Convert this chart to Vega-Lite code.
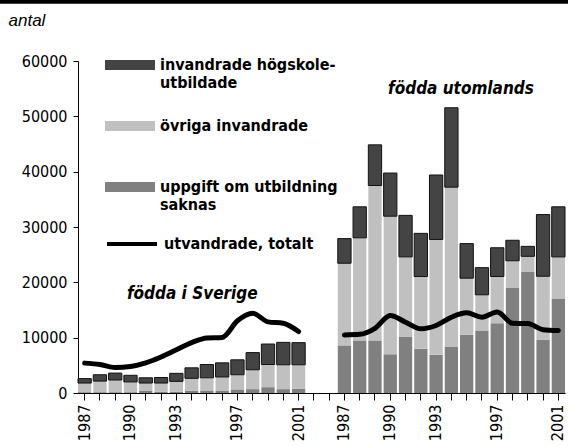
{
  "$schema": "https://vega.github.io/schema/vega-lite/v6.json",
  "width": 487,
  "height": 332,
  "autosize": {"type": "none"},
  "padding": {"left": 78, "top": 61, "right": 3, "bottom": 53},
  "background": "white",
  "config": {
    "view": {"stroke": null},
    "font": "DejaVu Sans Condensed, Roboto, sans-serif",
    "axis": {"domainColor": "black", "tickColor": "black", "labelColor": "black", "labelFont": "DejaVu Sans Condensed, Roboto, sans-serif", "labelFontSize": 16, "grid": false}
  },
  "datasets": {
    "bars": [
      {"k": "S1987", "s": "uppgift om utbildning saknas", "o": 1, "v": 150},
      {"k": "S1987", "s": "övriga invandrade", "o": 2, "v": 1650},
      {"k": "S1987", "s": "invandrade högskoleutbildade", "o": 3, "v": 800},
      {"k": "S1988", "s": "uppgift om utbildning saknas", "o": 1, "v": 150},
      {"k": "S1988", "s": "övriga invandrade", "o": 2, "v": 2000},
      {"k": "S1988", "s": "invandrade högskoleutbildade", "o": 3, "v": 1150},
      {"k": "S1989", "s": "uppgift om utbildning saknas", "o": 1, "v": 150},
      {"k": "S1989", "s": "övriga invandrade", "o": 2, "v": 2200},
      {"k": "S1989", "s": "invandrade högskoleutbildade", "o": 3, "v": 1250},
      {"k": "S1990", "s": "uppgift om utbildning saknas", "o": 1, "v": 150},
      {"k": "S1990", "s": "övriga invandrade", "o": 2, "v": 1850},
      {"k": "S1990", "s": "invandrade högskoleutbildade", "o": 3, "v": 1200},
      {"k": "S1991", "s": "uppgift om utbildning saknas", "o": 1, "v": 450},
      {"k": "S1991", "s": "övriga invandrade", "o": 2, "v": 1350},
      {"k": "S1991", "s": "invandrade högskoleutbildade", "o": 3, "v": 950},
      {"k": "S1992", "s": "uppgift om utbildning saknas", "o": 1, "v": 250},
      {"k": "S1992", "s": "övriga invandrade", "o": 2, "v": 1550},
      {"k": "S1992", "s": "invandrade högskoleutbildade", "o": 3, "v": 1000},
      {"k": "S1993", "s": "uppgift om utbildning saknas", "o": 1, "v": 250},
      {"k": "S1993", "s": "övriga invandrade", "o": 2, "v": 1850},
      {"k": "S1993", "s": "invandrade högskoleutbildade", "o": 3, "v": 1450},
      {"k": "S1994", "s": "uppgift om utbildning saknas", "o": 1, "v": 400},
      {"k": "S1994", "s": "övriga invandrade", "o": 2, "v": 2250},
      {"k": "S1994", "s": "invandrade högskoleutbildade", "o": 3, "v": 1900},
      {"k": "S1995", "s": "uppgift om utbildning saknas", "o": 1, "v": 450},
      {"k": "S1995", "s": "övriga invandrade", "o": 2, "v": 2300},
      {"k": "S1995", "s": "invandrade högskoleutbildade", "o": 3, "v": 2400},
      {"k": "S1996", "s": "uppgift om utbildning saknas", "o": 1, "v": 450},
      {"k": "S1996", "s": "övriga invandrade", "o": 2, "v": 2450},
      {"k": "S1996", "s": "invandrade högskoleutbildade", "o": 3, "v": 2550},
      {"k": "S1997", "s": "uppgift om utbildning saknas", "o": 1, "v": 650},
      {"k": "S1997", "s": "övriga invandrade", "o": 2, "v": 2650},
      {"k": "S1997", "s": "invandrade högskoleutbildade", "o": 3, "v": 2700},
      {"k": "S1998", "s": "uppgift om utbildning saknas", "o": 1, "v": 700},
      {"k": "S1998", "s": "övriga invandrade", "o": 2, "v": 3500},
      {"k": "S1998", "s": "invandrade högskoleutbildade", "o": 3, "v": 3100},
      {"k": "S1999", "s": "uppgift om utbildning saknas", "o": 1, "v": 1050},
      {"k": "S1999", "s": "övriga invandrade", "o": 2, "v": 4100},
      {"k": "S1999", "s": "invandrade högskoleutbildade", "o": 3, "v": 3700},
      {"k": "S2000", "s": "uppgift om utbildning saknas", "o": 1, "v": 700},
      {"k": "S2000", "s": "övriga invandrade", "o": 2, "v": 4400},
      {"k": "S2000", "s": "invandrade högskoleutbildade", "o": 3, "v": 4050},
      {"k": "S2001", "s": "uppgift om utbildning saknas", "o": 1, "v": 800},
      {"k": "S2001", "s": "övriga invandrade", "o": 2, "v": 4300},
      {"k": "S2001", "s": "invandrade högskoleutbildade", "o": 3, "v": 4000},
      {"k": "U1987", "s": "uppgift om utbildning saknas", "o": 1, "v": 8600},
      {"k": "U1987", "s": "övriga invandrade", "o": 2, "v": 14850},
      {"k": "U1987", "s": "invandrade högskoleutbildade", "o": 3, "v": 4450},
      {"k": "U1988", "s": "uppgift om utbildning saknas", "o": 1, "v": 9500},
      {"k": "U1988", "s": "övriga invandrade", "o": 2, "v": 18550},
      {"k": "U1988", "s": "invandrade högskoleutbildade", "o": 3, "v": 5600},
      {"k": "U1989", "s": "uppgift om utbildning saknas", "o": 1, "v": 9500},
      {"k": "U1989", "s": "övriga invandrade", "o": 2, "v": 28000},
      {"k": "U1989", "s": "invandrade högskoleutbildade", "o": 3, "v": 7350},
      {"k": "U1990", "s": "uppgift om utbildning saknas", "o": 1, "v": 7000},
      {"k": "U1990", "s": "övriga invandrade", "o": 2, "v": 24950},
      {"k": "U1990", "s": "invandrade högskoleutbildade", "o": 3, "v": 7800},
      {"k": "U1991", "s": "uppgift om utbildning saknas", "o": 1, "v": 10200},
      {"k": "U1991", "s": "övriga invandrade", "o": 2, "v": 14400},
      {"k": "U1991", "s": "invandrade högskoleutbildade", "o": 3, "v": 7500},
      {"k": "U1992", "s": "uppgift om utbildning saknas", "o": 1, "v": 8000},
      {"k": "U1992", "s": "övriga invandrade", "o": 2, "v": 13050},
      {"k": "U1992", "s": "invandrade högskoleutbildade", "o": 3, "v": 7800},
      {"k": "U1993", "s": "uppgift om utbildning saknas", "o": 1, "v": 6900},
      {"k": "U1993", "s": "övriga invandrade", "o": 2, "v": 20850},
      {"k": "U1993", "s": "invandrade högskoleutbildade", "o": 3, "v": 11650},
      {"k": "U1994", "s": "uppgift om utbildning saknas", "o": 1, "v": 8400},
      {"k": "U1994", "s": "övriga invandrade", "o": 2, "v": 28800},
      {"k": "U1994", "s": "invandrade högskoleutbildade", "o": 3, "v": 14350},
      {"k": "U1995", "s": "uppgift om utbildning saknas", "o": 1, "v": 10550},
      {"k": "U1995", "s": "övriga invandrade", "o": 2, "v": 10200},
      {"k": "U1995", "s": "invandrade högskoleutbildade", "o": 3, "v": 6250},
      {"k": "U1996", "s": "uppgift om utbildning saknas", "o": 1, "v": 11300},
      {"k": "U1996", "s": "övriga invandrade", "o": 2, "v": 6450},
      {"k": "U1996", "s": "invandrade högskoleutbildade", "o": 3, "v": 4900},
      {"k": "U1997", "s": "uppgift om utbildning saknas", "o": 1, "v": 12600},
      {"k": "U1997", "s": "övriga invandrade", "o": 2, "v": 8450},
      {"k": "U1997", "s": "invandrade högskoleutbildade", "o": 3, "v": 5200},
      {"k": "U1998", "s": "uppgift om utbildning saknas", "o": 1, "v": 19050},
      {"k": "U1998", "s": "övriga invandrade", "o": 2, "v": 4850},
      {"k": "U1998", "s": "invandrade högskoleutbildade", "o": 3, "v": 3700},
      {"k": "U1999", "s": "uppgift om utbildning saknas", "o": 1, "v": 21950},
      {"k": "U1999", "s": "övriga invandrade", "o": 2, "v": 2750},
      {"k": "U1999", "s": "invandrade högskoleutbildade", "o": 3, "v": 1800},
      {"k": "U2000", "s": "uppgift om utbildning saknas", "o": 1, "v": 9650},
      {"k": "U2000", "s": "övriga invandrade", "o": 2, "v": 11450},
      {"k": "U2000", "s": "invandrade högskoleutbildade", "o": 3, "v": 11150},
      {"k": "U2001", "s": "uppgift om utbildning saknas", "o": 1, "v": 17100},
      {"k": "U2001", "s": "övriga invandrade", "o": 2, "v": 7500},
      {"k": "U2001", "s": "invandrade högskoleutbildade", "o": 3, "v": 9050}
    ],
    "lines": [
      {"k": "S1987", "g": "S", "n": "utvandrade, totalt", "v": 5400},
      {"k": "S1988", "g": "S", "n": "utvandrade, totalt", "v": 5150},
      {"k": "S1989", "g": "S", "n": "utvandrade, totalt", "v": 4600},
      {"k": "S1990", "g": "S", "n": "utvandrade, totalt", "v": 4800},
      {"k": "S1991", "g": "S", "n": "utvandrade, totalt", "v": 5450},
      {"k": "S1992", "g": "S", "n": "utvandrade, totalt", "v": 6500},
      {"k": "S1993", "g": "S", "n": "utvandrade, totalt", "v": 7800},
      {"k": "S1994", "g": "S", "n": "utvandrade, totalt", "v": 9100},
      {"k": "S1995", "g": "S", "n": "utvandrade, totalt", "v": 9950},
      {"k": "S1996", "g": "S", "n": "utvandrade, totalt", "v": 10050},
      {"k": "S1997", "g": "S", "n": "utvandrade, totalt", "v": 13050},
      {"k": "S1998", "g": "S", "n": "utvandrade, totalt", "v": 14400},
      {"k": "S1999", "g": "S", "n": "utvandrade, totalt", "v": 12850},
      {"k": "S2000", "g": "S", "n": "utvandrade, totalt", "v": 12600},
      {"k": "S2001", "g": "S", "n": "utvandrade, totalt", "v": 11100},
      {"k": "U1987", "g": "U", "n": "utvandrade, totalt", "v": 10500},
      {"k": "U1988", "g": "U", "n": "utvandrade, totalt", "v": 10600},
      {"k": "U1989", "g": "U", "n": "utvandrade, totalt", "v": 11700},
      {"k": "U1990", "g": "U", "n": "utvandrade, totalt", "v": 14000},
      {"k": "U1991", "g": "U", "n": "utvandrade, totalt", "v": 12800},
      {"k": "U1992", "g": "U", "n": "utvandrade, totalt", "v": 11600},
      {"k": "U1993", "g": "U", "n": "utvandrade, totalt", "v": 12200},
      {"k": "U1994", "g": "U", "n": "utvandrade, totalt", "v": 13700},
      {"k": "U1995", "g": "U", "n": "utvandrade, totalt", "v": 14500},
      {"k": "U1996", "g": "U", "n": "utvandrade, totalt", "v": 13700},
      {"k": "U1997", "g": "U", "n": "utvandrade, totalt", "v": 14650},
      {"k": "U1998", "g": "U", "n": "utvandrade, totalt", "v": 12600},
      {"k": "U1999", "g": "U", "n": "utvandrade, totalt", "v": 12550},
      {"k": "U2000", "g": "U", "n": "utvandrade, totalt", "v": 11450},
      {"k": "U2001", "g": "U", "n": "utvandrade, totalt", "v": 11300}
    ],
    "notes": [
      {"k": "S1994", "v": 17900, "t": "födda i Sverige"},
      {"k": "U1995", "v": 55000, "t": "födda utomlands"}
    ],
    "frame": [{"a": 0, "b": 1, "y": 70700}]
  },
  "layer": [
    {
      "layer": [
        {
          "data": {"name": "bars"},
          "mark": {"type": "bar"},
          "encoding": {
            "x": {
              "field": "k", "type": "nominal",
              "scale": {
                "domain": ["S1987","S1988","S1989","S1990","S1991","S1992","S1993","S1994","S1995","S1996","S1997","S1998","S1999","S2000","S2001","G1","G2","U1987","U1988","U1989","U1990","U1991","U1992","U1993","U1994","U1995","U1996","U1997","U1998","U1999","U2000","U2001"],
                "paddingInner": 0.13, "paddingOuter": 0
              },
              "axis": {
                "title": null, "labelAngle": 270, "tickSize": 7, "labelPadding": 4,
                "labelExpr": "indexof(['1987','1990','1993','1997','2001'], substring(datum.value, 1)) >= 0 ? substring(datum.value, 1) : ''"
              }
            },
            "y": {
              "field": "v", "type": "quantitative", "stack": "zero",
              "scale": {"domain": [0, 60000], "nice": false},
              "axis": {
                "values": [0, 10000, 20000, 30000, 40000, 50000, 60000], "format": "d",
                "tickSize": 5, "labelPadding": 6,
                "title": "antal", "titleAngle": 0, "titleX": -70, "titleY": -41,
                "titleAlign": "left", "titleBaseline": "middle", "titleFont": "Liberation Sans",
                "titleFontStyle": "italic", "titleFontWeight": "normal", "titleFontSize": 17, "titleColor": "black"
              }
            },
            "order": {"field": "o", "type": "quantitative"},
            "color": {
              "field": "s", "type": "nominal",
              "scale": {
                "domain": ["invandrade högskoleutbildade", "övriga invandrade", "uppgift om utbildning saknas"],
                "range": ["#444444", "#c0c0c0", "#808080"]
              },
              "legend": {
                "orient": "none", "legendX": 27, "legendY": -21, "title": null,
                "symbolType": "M-1,-0.2H1V0.2H-1Z", "symbolSize": 2500, "symbolStrokeWidth": 0,
                "labelFont": "DejaVu Sans Condensed, Roboto, sans-serif", "labelFontWeight": "bold", "labelFontSize": 16,
                "labelColor": "black", "labelOffset": 5, "labelLimit": 400, "gridAlign": "all", "rowPadding": 10,
                "labelExpr": "datum.label == 'invandrade högskoleutbildade' ? ['invandrade högskole-', 'utbildade'] : datum.label == 'uppgift om utbildning saknas' ? ['uppgift om utbildning', 'saknas'] : datum.label"
              }
            },
            "stroke": {
              "condition": {"test": "datum.s == 'invandrade högskoleutbildade'", "value": "#111111"},
              "value": null
            },
            "strokeWidth": {"value": 1}
          }
        },
        {
          "data": {"name": "lines"},
          "mark": {"type": "line", "interpolate": "monotone", "strokeWidth": 5, "strokeCap": "round"},
          "encoding": {
            "x": {"field": "k", "type": "nominal"},
            "y": {"field": "v", "type": "quantitative"},
            "detail": {"field": "g"},
            "color": {
              "field": "n", "type": "nominal",
              "scale": {"range": ["black"]},
              "legend": {
                "orient": "none", "legendX": 27, "legendY": 156, "title": null,
                "symbolType": "stroke", "symbolSize": 2500, "symbolStrokeWidth": 4,
                "labelFont": "DejaVu Sans Condensed, Roboto, sans-serif", "labelFontWeight": "bold", "labelFontSize": 16,
                "labelColor": "black", "labelOffset": 5, "labelLimit": 400
              }
            }
          }
        },
        {
          "data": {"name": "notes"},
          "transform": [{"filter": "datum.k == 'S1994'"}],
          "mark": {"type": "text", "font": "DejaVu Sans Condensed, Roboto, sans-serif", "fontWeight": "bold", "fontStyle": "italic", "fontSize": 17, "baseline": "middle", "align": "center", "color": "black"},
          "encoding": {
            "x": {"field": "k", "type": "nominal", "bandPosition": 0.55},
            "y": {"field": "v", "type": "quantitative"},
            "text": {"field": "t"}
          }
        },
        {
          "data": {"name": "notes"},
          "transform": [{"filter": "datum.k == 'U1995'"}],
          "mark": {"type": "text", "font": "DejaVu Sans Condensed, Roboto, sans-serif", "fontWeight": "bold", "fontStyle": "italic", "fontSize": 17, "baseline": "middle", "align": "center", "color": "black"},
          "encoding": {
            "x": {"field": "k", "type": "nominal", "bandPosition": 0.07},
            "y": {"field": "v", "type": "quantitative"},
            "text": {"field": "t"}
          }
        }
      ],
      "resolve": {"scale": {"color": "independent"}}
    },
    {
      "data": {"name": "frame"},
      "mark": {"type": "rule", "color": "black", "strokeWidth": 4},
      "encoding": {
        "x": {"field": "a", "type": "quantitative", "scale": {"domain": [0, 1], "range": [-78, 490]}, "axis": null},
        "x2": {"field": "b"},
        "y": {"field": "y", "type": "quantitative", "scale": {"domain": [0, 60000], "nice": false}}
      }
    }
  ],
  "resolve": {"scale": {"x": "independent"}}
}
